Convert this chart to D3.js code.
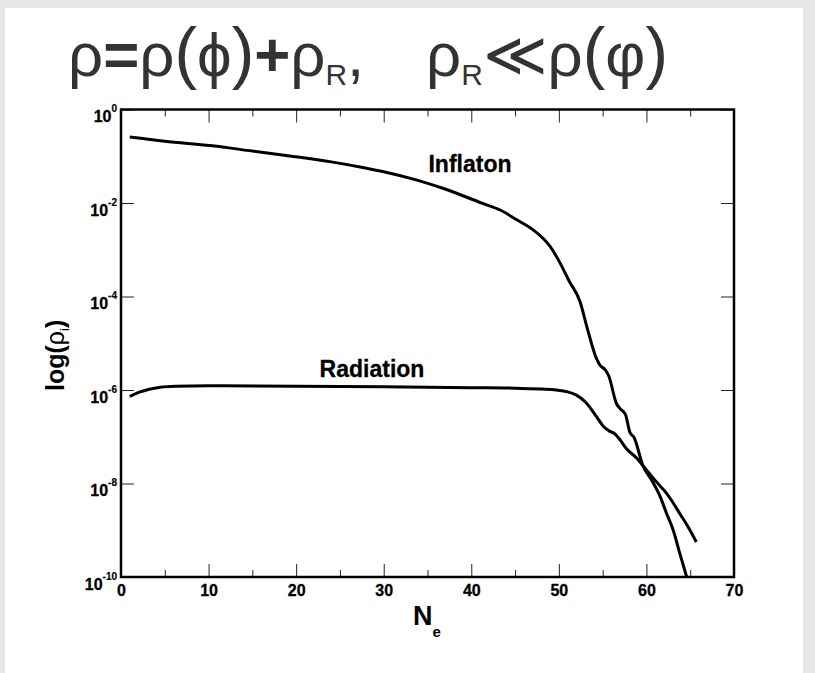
<!DOCTYPE html>
<html>
<head>
<meta charset="utf-8">
<script src="https://cdn.jsdelivr.net/npm/d3@7"></script>
<style>
  html, body { margin: 0; padding: 0; background: #e6e6e6; }
  svg { display: block; }
</style>
</head>
<body>
<script>
/******************************************************************************/
/* DATA                                                                       */
/******************************************************************************/
// N_e (e-folds) and log10(rho)
var inflatonN   = [1.0, 5, 10.7, 15, 19.9, 24, 27.9, 30, 33.8, 37, 41.3, 43.3, 45.2, 47.1, 49.0, 50.1, 51.2, 52.4,
                   53.3, 54.3, 54.7, 55.3, 55.7, 56.6, 57.0, 57.6, 58.1, 58.6, 59.6, 60.6, 61.5, 62.3, 63.1, 63.8, 64.6];
var inflatonLog = [-0.59, -0.68, -0.78, -0.89, -1.01, -1.12, -1.25, -1.33, -1.51, -1.70, -2.01, -2.15, -2.36, -2.58, -2.93, -3.27, -3.68, -4.10,
                   -4.72, -5.33, -5.47, -5.57, -5.70, -6.30, -6.40, -6.52, -6.90, -7.02, -7.62, -7.93, -8.25, -8.64, -9.02, -9.49, -10.0];

var radiationN   = [1.0, 2.0, 3.1, 4.5, 6.2, 10, 20, 30, 40, 45, 48, 49.7, 51, 52.0, 53.0, 53.5, 54.3, 55.1, 55.7,
                    56.4, 57.0, 57.7, 58.9, 60.0, 60.8, 61.5, 62.3, 63.0, 63.8, 64.8, 65.7];
var radiationLog = [-6.14, -6.05, -5.99, -5.94, -5.92, -5.91, -5.92, -5.93, -5.95, -5.96, -5.98, -6.00, -6.04, -6.11, -6.25, -6.36, -6.57, -6.78, -6.87,
                    -6.94, -7.07, -7.25, -7.46, -7.71, -7.89, -8.04, -8.21, -8.40, -8.64, -8.94, -9.25];

var xMajorTicks = [0, 10, 20, 30, 40, 50, 60, 70];
var xMinorTicks = [5, 15, 25, 35, 45, 55, 65];
var yTicks      = [1, 1e-2, 1e-4, 1e-6, 1e-8, 1e-10];

/******************************************************************************/
/* GLOBAL                                                                     */
/******************************************************************************/
var width  = 815;
var height = 673;
var plot = {left: 121, right: 734, top: 109.5, bottom: 577};
var font = 'Liberation Sans, Arial, sans-serif';

var x = d3.scaleLinear().domain([0, 70]).range([plot.left, plot.right]);
var y = d3.scaleLog().domain([1e-10, 1]).range([plot.bottom, plot.top]);

var svg = d3.select('body')
  .append('svg')
  .attr('width', width)
  .attr('height', height);

// panel
svg.append('rect')
  .attr('x', 5).attr('y', 8)
  .attr('width', 798).attr('height', height - 8)
  .attr('fill', '#ffffff');

/******************************************************************************/
/* TITLE                                                                      */
/******************************************************************************/
var title = svg.append('text')
  .attr('x', 68).attr('y', 76)
  .attr('font-family', font)
  .attr('font-size', 62)
  .attr('fill', '#333')
  .attr('textLength', 600)
  .attr('lengthAdjust', 'spacingAndGlyphs');

// each piece: [text, size, dy, bold]
var titleParts = [
  ['\u03c1', 62, 0, false], ['=', 62, 0, true], ['\u03c1', 62, 0, false],
  ['(', 68, 0, false], ['\u03d5', 62, 0, false], [')', 68, 0, false],
  ['+', 62, 0, true], ['\u03c1', 62, 0, false], ['R', 30, 9, false],
  [',\u2002\u2002\u03c1', 62, -9, false], ['R', 30, 9, false],
  ['\u226a\u03c1', 62, -9, false], ['(', 68, 0, false], ['\u03c6', 62, 0, false], [')', 68, 0, false]
];
titleParts.forEach(function(p) {
  title.append('tspan')
    .attr('font-size', p[1])
    .attr('dy', p[2])
    .attr('font-weight', p[3] ? 'bold' : 'normal')
    .text(p[0]);
});

/******************************************************************************/
/* AXES                                                                       */
/******************************************************************************/
var styleAxis = function(g) {
  g.select('.domain').remove();
  g.selectAll('.tick line').attr('stroke', '#222').attr('stroke-width', 1);
  g.selectAll('.tick text')
    .attr('font-family', font)
    .attr('font-weight', 'bold')
    .attr('font-size', 16)
    .attr('fill', '#000')
    .attr('stroke', '#000')
    .attr('stroke-width', 0.3);
  return g;
};

// bottom
svg.append('g')
  .attr('transform', 'translate(0,' + plot.bottom + ')')
  .call(d3.axisBottom(x).tickValues(xMajorTicks).tickSize(-13).tickPadding(8).tickFormat(d3.format('d')))
  .call(styleAxis);
svg.append('g')
  .attr('transform', 'translate(0,' + plot.bottom + ')')
  .call(d3.axisBottom(x).tickValues(xMinorTicks).tickSize(-7).tickFormat(''))
  .call(styleAxis);

// top
svg.append('g')
  .attr('transform', 'translate(0,' + plot.top + ')')
  .call(d3.axisTop(x).tickValues(xMajorTicks).tickSize(-13).tickFormat(''))
  .call(styleAxis);
svg.append('g')
  .attr('transform', 'translate(0,' + plot.top + ')')
  .call(d3.axisTop(x).tickValues(xMinorTicks).tickSize(-7).tickFormat(''))
  .call(styleAxis);

// left with 10^n labels
var yLeft = svg.append('g')
  .attr('transform', 'translate(' + plot.left + ',0)')
  .call(d3.axisLeft(y).tickValues(yTicks).tickSize(-13).tickPadding(4))
  .call(styleAxis);
yLeft.selectAll('.tick text').each(function(d) {
  var t = d3.select(this);
  var e = Math.round(Math.log10(d));
  t.text(null).attr('dy', null).attr('y', 12);
  t.append('tspan').text('10');
  t.append('tspan').attr('dy', -10).attr('font-size', 10).attr('stroke-width', 0.2).text(e);
});

// right
svg.append('g')
  .attr('transform', 'translate(' + plot.right + ',0)')
  .call(d3.axisRight(y).tickValues(yTicks).tickSize(-13).tickFormat(''))
  .call(styleAxis);

// frame
svg.append('rect')
  .attr('x', plot.left).attr('y', plot.top)
  .attr('width', plot.right - plot.left)
  .attr('height', plot.bottom - plot.top)
  .attr('fill', 'none')
  .attr('stroke', '#000')
  .attr('stroke-width', 2.5);

// axis titles
var xTitle = svg.append('text')
  .attr('x', 413).attr('y', 625)
  .attr('font-family', font).attr('font-weight', 'bold')
  .attr('font-size', 27).attr('fill', '#000');
xTitle.append('tspan').text('N');
xTitle.append('tspan').attr('font-size', 15).attr('dy', 12).text('e');

var yTitle = svg.append('text')
  .attr('transform', 'translate(64,391) rotate(-90)')
  .attr('font-family', font).attr('font-weight', 'bold')
  .attr('font-size', 25).attr('fill', '#000');
yTitle.append('tspan').text('log(');
yTitle.append('tspan').attr('font-weight', 'normal').text('\u03c1');
yTitle.append('tspan').attr('font-weight', 'normal').attr('font-size', 13).attr('dy', 5).text('i');
yTitle.append('tspan').attr('dy', -5).text(')');

/******************************************************************************/
/* CURVES                                                                     */
/******************************************************************************/
var toPoints = function(ns, logs) {
  return ns.map(function(n, i) { return [n, Math.pow(10, logs[i])]; });
};

var line = d3.line()
  .x(function(d) { return x(d[0]); })
  .y(function(d) { return y(d[1]); })
  .curve(d3.curveMonotoneX);

svg.append('clipPath').attr('id', 'clip')
  .append('rect')
  .attr('x', plot.left).attr('y', plot.top)
  .attr('width', plot.right - plot.left)
  .attr('height', plot.bottom - plot.top);

[toPoints(inflatonN, inflatonLog), toPoints(radiationN, radiationLog)].forEach(function(pts) {
  svg.append('path')
    .datum(pts)
    .attr('clip-path', 'url(#clip)')
    .attr('d', line)
    .attr('fill', 'none')
    .attr('stroke', '#000')
    .attr('stroke-width', 3)
    .attr('stroke-linejoin', 'round');
});

// curve labels
var curveLabel = function(txt, cx, cy) {
  svg.append('text')
    .attr('x', cx).attr('y', cy)
    .attr('text-anchor', 'middle')
    .attr('font-family', font).attr('font-weight', 'bold')
    .attr('font-size', 23)
    .attr('stroke', '#000').attr('stroke-width', 0.3)
    .text(txt);
};
curveLabel('Inflaton', 470, 172);
curveLabel('Radiation', 372, 377);
</script>
</body>
</html>
